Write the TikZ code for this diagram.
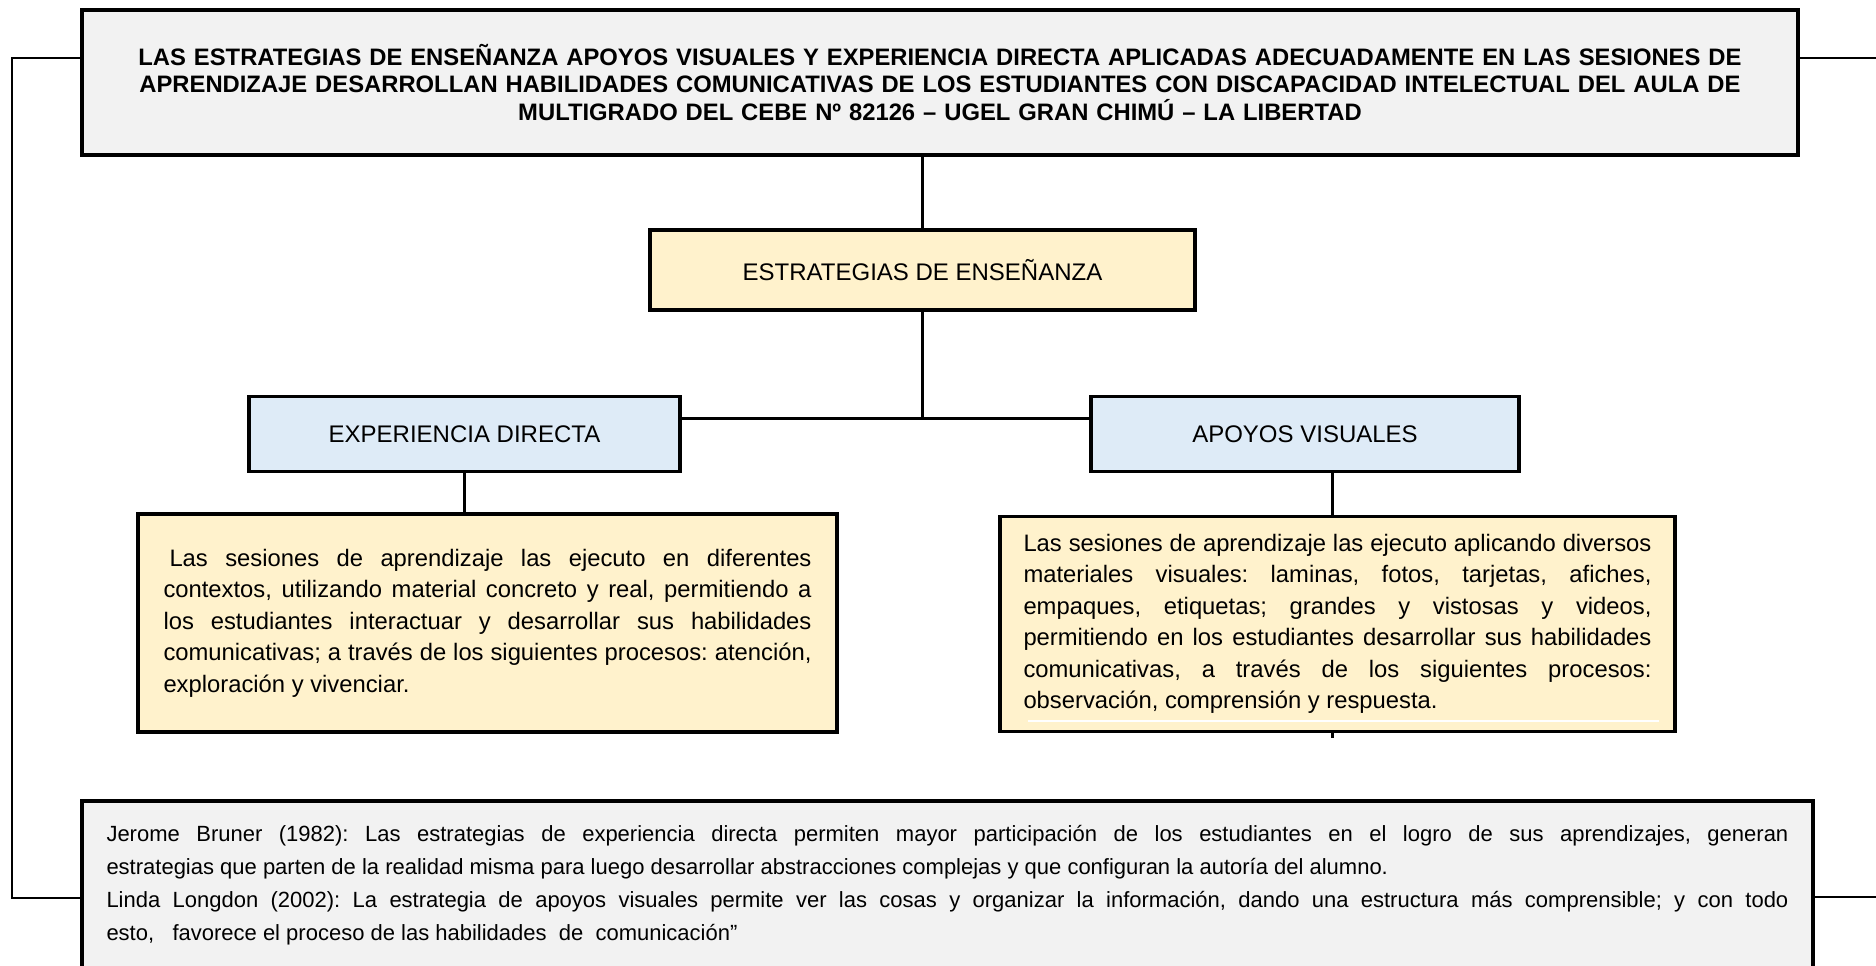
\documentclass[tikz,border=0pt]{standalone}
\usepackage{fontspec}
\setmainfont{Liberation Sans}
\usetikzlibrary{calc,positioning}
\definecolor{title_gray}{RGB}{242,242,242}
\definecolor{soft_yellow}{RGB}{255,242,204}
\definecolor{soft_blue}{RGB}{222,235,247}
\frenchspacing

\begin{document}
\begin{tikzpicture}[
		x=0.5pt, y=-0.5pt,
		every node/.style={font=\fontsize{12}{13.8}\selectfont, inner sep=0pt},
		box/.style={draw, line width=1.6pt, minimum width=#1},
		link/.style={line width=1.5pt},
		bracket/.style={line width=1pt},
	]
	\useasboundingbox (0,0) rectangle (1876,965);

	% title and the two branches
	\node[box=858pt, fill=title_gray, minimum height=72.5pt, text width=840pt, align=center,
		font=\bfseries\fontsize{11.9}{13.8}\selectfont] (title) at (940,82.5)
	{LAS ESTRATEGIAS DE ENSEÑANZA APOYOS VISUALES Y EXPERIENCIA DIRECTA APLICADAS ADECUADAMENTE EN LAS SESIONES DE\\
		APRENDIZAJE DESARROLLAN HABILIDADES COMUNICATIVAS DE LOS ESTUDIANTES CON DISCAPACIDAD INTELECTUAL DEL AULA DE\\
		MULTIGRADO DEL CEBE Nº 82126 – UGEL GRAN CHIMÚ – LA LIBERTAD};

	\node[box=272.5pt, fill=soft_yellow, minimum height=40pt] (strategies) at (922.5,270) {ESTRATEGIAS DE ENSEÑANZA};

	\node[box=215.5pt, fill=soft_blue, minimum height=37.5pt] (direct) at (464.5,434) {EXPERIENCIA DIRECTA};
	\node[box=214pt, fill=soft_blue, minimum height=37.5pt] (visual) at (1305,434) {APOYOS VISUALES};

	\node[box=349.5pt, fill=soft_yellow, minimum height=109pt, text width=324pt, align=justify,
		font=\fontsize{11.9}{15.75}\selectfont] (direct-text) at (487.5,623)
	{\hspace*{3pt}Las sesiones de aprendizaje las ejecuto en diferentes\linebreak
		contextos, utilizando material concreto y real, permitiendo a\linebreak
		los estudiantes interactuar y desarrollar sus habilidades\linebreak
		comunicativas; a través de los siguientes procesos: atención,\linebreak
		exploración y vivenciar.};

	\node[box=337.5pt, fill=soft_yellow, minimum height=107.5pt, text width=314pt, align=justify,
		font=\fontsize{11.9}{15.75}\selectfont] (visual-text) at (1337.5,624)
	{Las sesiones de aprendizaje las ejecuto aplicando diversos\linebreak
		materiales visuales: laminas, fotos, tarjetas, afiches,\linebreak
		empaques, etiquetas; grandes y vistosas y videos,\linebreak
		permitiendo en los estudiantes desarrollar sus habilidades\linebreak
		comunicativas, a través de los siguientes procesos:\linebreak
		observación, comprensión y respuesta.};
	\draw[white, line width=1pt] ($(visual-text.south west)+(30,-12)$) -- ($(visual-text.south east)+(-18,-12)$);

	\node[box=865.5pt, fill=title_gray, minimum height=84.5pt, text width=841pt, align=justify,
		font=\fontsize{11}{16.5}\selectfont] (bottom-text) at (947.5,885.5)
	{Jerome Bruner (1982): Las estrategias de experiencia directa permiten mayor participación de los estudiantes en el logro de sus aprendizajes, generan\linebreak
		estrategias que parten de la realidad misma para luego desarrollar abstracciones complejas y que configuran la autoría del alumno.\\
		Linda Longdon (2002): La estrategia de apoyos visuales permite ver las cosas y organizar la información, dando una estructura más comprensible; y con todo\linebreak
		esto,\ \ \ favorece el proceso de las habilidades\ \ de\ \ comunicación”};

	% connectors
	\draw[link] (strategies.north) -- (strategies.north |- title.south);
	\coordinate (branch) at ($(strategies.south)+(0,107)$);
	\draw[link] (strategies.south) -- (branch);
	\draw[link] (branch -| direct.east) -- (branch -| visual.west);
	\draw[link] (direct.south) -- (direct.south |- direct-text.north);

	\coordinate (visual-drop) at (1332,0);
	\draw[link] (visual.south -| visual-drop) -- (visual-text.north -| visual-drop);
	\draw[link] (visual-text.south -| visual-drop) -- ++(0,5);

	% outer frame lines
	\coordinate (left-top) at (12,58);
	\coordinate (left-bottom) at (12,898);
	\draw[bracket] (title.west |- left-top) -- (left-top) -- (left-bottom) -- (left-bottom -| bottom-text.west);

	\coordinate (right-top) at (1876,58);
	\coordinate (right-bottom) at (1876,897);
	\draw[bracket] (title.east |- right-top) -- (right-top);
	\draw[bracket] (bottom-text.east |- right-bottom) -- (right-bottom);

\end{tikzpicture}
\end{document}
